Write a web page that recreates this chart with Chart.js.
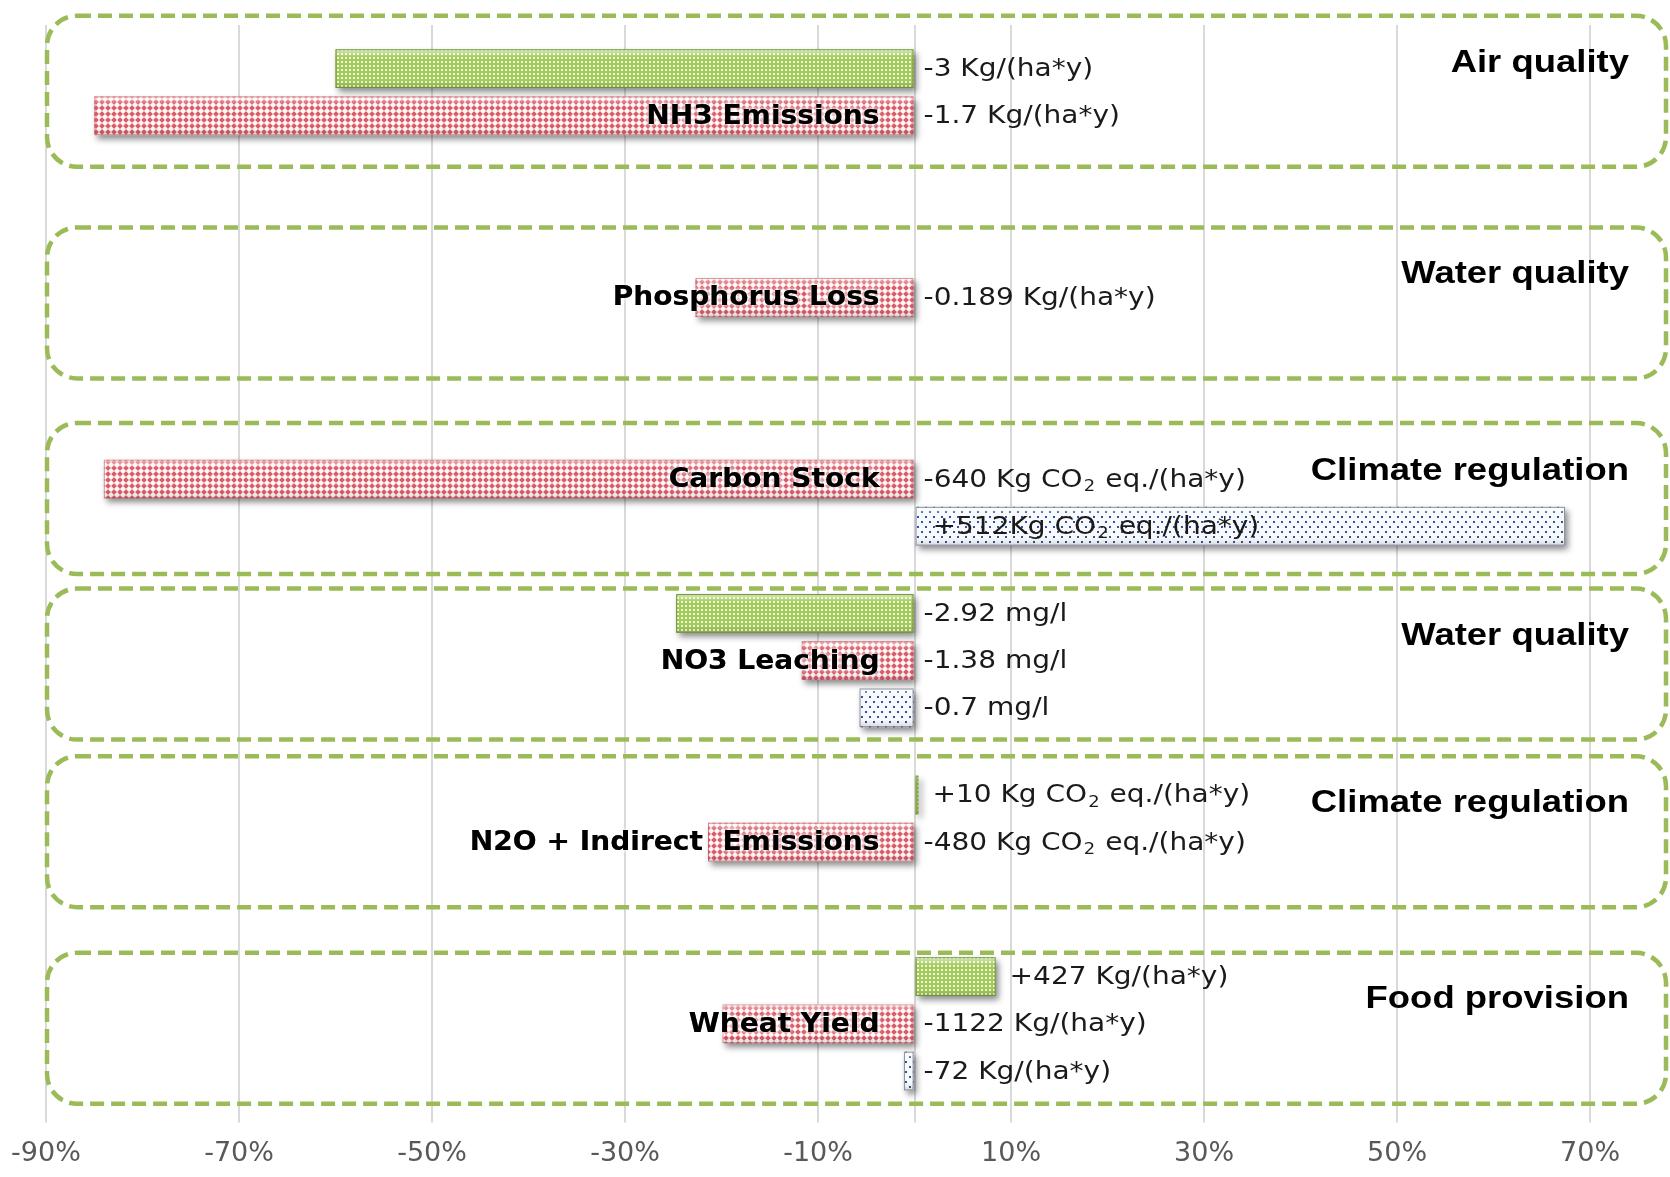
<!DOCTYPE html>
<html>
<head>
<meta charset="utf-8">
<script src="https://cdn.jsdelivr.net/npm/chart.js@4"></script>
<style>
  html, body { margin: 0; padding: 0; background: #fff; overflow: hidden; }
  #wrap { width: 1670px; height: 1177px; position: relative; }
</style>
</head>
<body>
<div id="wrap"><canvas id="chart"></canvas></div>
<script>
// categories (one per group, from top to bottom)
const categories = ['NH3 Emissions', 'Phosphorus Loss', 'Carbon Stock', 'NO3 Leaching', 'N2O + Indirect  Emissions', 'Wheat Yield'];
const groupTitles = ['Air quality', 'Water quality', 'Climate regulation', 'Water quality', 'Climate regulation', 'Food provision'];

// % change per scenario (green, red, blue series)
const greenValues = [-60, null, null, -24.7, 0.4, 8.4];
const redValues = [-85, -22.7, -84, -11.7, -21.4, -19.9];
const blueValues = [null, null, 67.4, -5.7, null, -1.1];

// absolute change written next to each bar
const greenLabels = ['-3 Kg/(ha*y)', null, null, '-2.92 mg/l', '+10 Kg CO₂ eq./(ha*y)', '+427 Kg/(ha*y)'];
const redLabels = ['-1.7 Kg/(ha*y)', '-0.189 Kg/(ha*y)', '-640 Kg CO₂ eq./(ha*y)', '-1.38 mg/l', '-480 Kg CO₂ eq./(ha*y)', '-1122 Kg/(ha*y)'];
const blueLabels = [null, null, '+512Kg CO₂ eq./(ha*y)', '-0.7 mg/l', null, '-72 Kg/(ha*y)'];

const tickValues = [-90, -70, -50, -30, -10, 0, 10, 30, 50, 70];
const tickLabels = ['-90%', '-70%', '-50%', '-30%', '-10%', '', '10%', '30%', '50%', '70%'];

// fill patterns
function makePattern(w, h, bg, paint) {
  const c = document.createElement('canvas');
  c.width = w; c.height = h;
  const g = c.getContext('2d');
  g.fillStyle = bg;
  g.fillRect(0, 0, w, h);
  paint(g);
  return document.getElementById('chart').getContext('2d').createPattern(c, 'repeat');
}

const greenPattern = makePattern(4, 4, '#a2cb58', g => {
  g.fillStyle = '#f1f8e4';
  g.fillRect(1, 1, 2, 2);
});

const redPattern = makePattern(6, 6, '#d65e6a', g => {
  for (let x = 0; x < 6; x++) {
    for (let y = 0; y < 6; y++) {
      const d = Math.abs(x - 2.5) + Math.abs(y - 2.5);
      if (d <= 2) { g.fillStyle = '#fff6f6'; g.fillRect(x, y, 1, 1); }
      else if (d <= 3) { g.fillStyle = '#f2bcc1'; g.fillRect(x, y, 1, 1); }
    }
  }
});

const bluePattern = makePattern(8, 10, '#f7f9fc', g => {
  g.fillStyle = '#2f5597';
  g.fillRect(1, 1, 2, 2);
  g.fillRect(5, 6, 2, 2);
});

const labelSets = [greenLabels, redLabels, blueLabels];

// text with CO2 subscript, stretched horizontally by sx
function drawRich(ctx, text, x, y, size, family, sx) {
  ctx.save();
  ctx.translate(x, y);
  ctx.scale(sx, 1);
  const parts = text.split('₂');
  let cx = 0;
  parts.forEach((p, i) => {
    ctx.font = size + 'px ' + family;
    ctx.fillText(p, cx, 0);
    cx += ctx.measureText(p).width;
    if (i < parts.length - 1) {
      const s = Math.round(size * 0.62);
      ctx.font = s + 'px ' + family;
      ctx.fillText('2', cx + 1, size * 0.28);
      cx += ctx.measureText('2').width + 2;
    }
  });
  ctx.restore();
}

function drawStretched(ctx, text, x, y, sx) {
  ctx.save();
  ctx.translate(x, y);
  ctx.scale(sx, 1);
  ctx.fillText(text, 0, 0);
  ctx.restore();
}

const shadowPlugin = {
  id: 'barShadow',
  beforeDatasetsDraw(chart) {
    const c = chart.ctx;
    c.save();
    c.shadowColor = 'rgba(0,0,0,0.45)';
    c.shadowBlur = 6;
    c.shadowOffsetX = 3;
    c.shadowOffsetY = 4;
  },
  afterDatasetsDraw(chart) {
    const c = chart.ctx;
    c.restore();
    const edges = ['rgba(105,140,45,0.9)', 'rgba(190,80,90,0.55)', 'rgba(110,120,140,0.8)'];
    chart.data.datasets.forEach((ds, di) => {
      chart.getDatasetMeta(di).data.forEach((bar, j) => {
        if (ds.data[j] === null) return;
        const p = bar.getProps(['x', 'y', 'base', 'height'], true);
        const left = Math.min(p.x, p.base);
        const w = Math.abs(p.x - p.base);
        const top = p.y - p.height / 2;
        const g = c.createLinearGradient(0, top, 0, top + p.height);
        g.addColorStop(0, 'rgba(255,255,255,0.55)');
        g.addColorStop(0.22, 'rgba(255,255,255,0)');
        g.addColorStop(0.8, 'rgba(0,0,0,0)');
        g.addColorStop(1, 'rgba(0,0,0,0.12)');
        c.save();
        c.fillStyle = g;
        c.fillRect(left, top, w, p.height);
        c.strokeStyle = edges[di];
        c.lineWidth = 1;
        c.strokeRect(left + 0.5, top + 0.5, Math.max(w - 1, 0), p.height - 1);
        c.restore();
      });
    });
  }
};

const annotatePlugin = {
  id: 'annotate',
  afterDraw(chart) {
    const ctx = chart.ctx;
    const ys = chart.scales.y;
    const zero = chart.scales.x.getPixelForValue(0);

    // value labels
    ctx.save();
    ctx.fillStyle = '#1a1a1a';
    ctx.textBaseline = 'middle';
    ctx.textAlign = 'left';
    labelSets.forEach((labels, di) => {
      const meta = chart.getDatasetMeta(di);
      labels.forEach((txt, j) => {
        if (!txt) return;
        const bar = meta.data[j];
        const v = chart.data.datasets[di].data[j];
        let x;
        if (v < 0) x = zero + 9;
        else if (bar.x - zero > 200) x = zero + 18;
        else x = bar.x + 14;
        drawRich(ctx, txt, x, bar.y + 1, 25, "'DejaVu Sans', sans-serif", 1.12);
      });
    });
    ctx.restore();

    // category labels, right aligned before the zero line
    ctx.save();
    ctx.textBaseline = 'middle';
    ctx.textAlign = 'right';
    ctx.font = "bold 27px 'DejaVu Sans', sans-serif";
    const redMeta = chart.getDatasetMeta(1);
    categories.forEach((c, j) => {
      const y = redMeta.data[j].y + 1;
      ctx.shadowColor = 'rgba(255,255,255,0.95)';
      ctx.shadowBlur = 5;
      ctx.fillStyle = '#000';
      drawStretched(ctx, c, zero - 35, y, 1.04);
      drawStretched(ctx, c, zero - 35, y, 1.04);
    });
    ctx.restore();

    // dashed group frames and titles
    const frameTop = [-100, -70, -56, -72, -86, -71];
    const titleDy = [-53, -23, -8, -24, -39, -25];
    ctx.save();
    ctx.strokeStyle = '#9bbb59';
    ctx.lineWidth = 4.5;
    ctx.setLineDash([14, 7]);
    categories.forEach((c, j) => {
      const cy = ys.getPixelForValue(j);
      ctx.beginPath();
      ctx.roundRect(47, cy + frameTop[j], 1619, 151, 30);
      ctx.stroke();
    });
    ctx.restore();

    ctx.save();
    ctx.fillStyle = '#000';
    ctx.textAlign = 'right';
    ctx.textBaseline = 'middle';
    ctx.font = "bold 32px 'Liberation Sans', Arial, sans-serif";
    groupTitles.forEach((t, j) => {
      const cy = ys.getPixelForValue(j);
      drawStretched(ctx, t, 1629, cy + titleDy[j], 1.14);
    });
    ctx.restore();
  }
};

new Chart(document.getElementById('chart'), {
  type: 'bar',
  data: {
    labels: categories,
    datasets: [
      { data: greenValues, backgroundColor: greenPattern, borderWidth: 0 },
      { data: redValues, backgroundColor: redPattern, borderWidth: 0 },
      { data: blueValues, backgroundColor: bluePattern, borderWidth: 0 }
    ]
  },
  options: {
    indexAxis: 'y',
    responsive: true,
    maintainAspectRatio: false,
    animation: false,
    datasets: { bar: { categoryPercentage: 0.78, barPercentage: 0.82 } },
    layout: { padding: { left: 46, right: 22, top: 25, bottom: -8 } },
    plugins: { legend: { display: false }, tooltip: { enabled: false } },
    scales: {
      x: {
        min: -90,
        max: 76,
        afterBuildTicks: axis => { axis.ticks = tickValues.map(v => ({ value: v })); },
        afterFit: axis => { axis.paddingLeft = 20; axis.paddingRight = 20; },
        grid: { color: '#d9d9d9', lineWidth: 2, tickLength: 8, tickColor: '#d9d9d9' },
        border: { display: false },
        ticks: {
          autoSkip: false,
          maxRotation: 0,
          padding: 15,
          color: '#595959',
          font: { family: "'DejaVu Sans', sans-serif", size: 27 },
          callback: (v, i) => tickLabels[i]
        }
      },
      y: { display: false }
    }
  },
  plugins: [shadowPlugin, annotatePlugin]
});
</script>
</body>
</html>
